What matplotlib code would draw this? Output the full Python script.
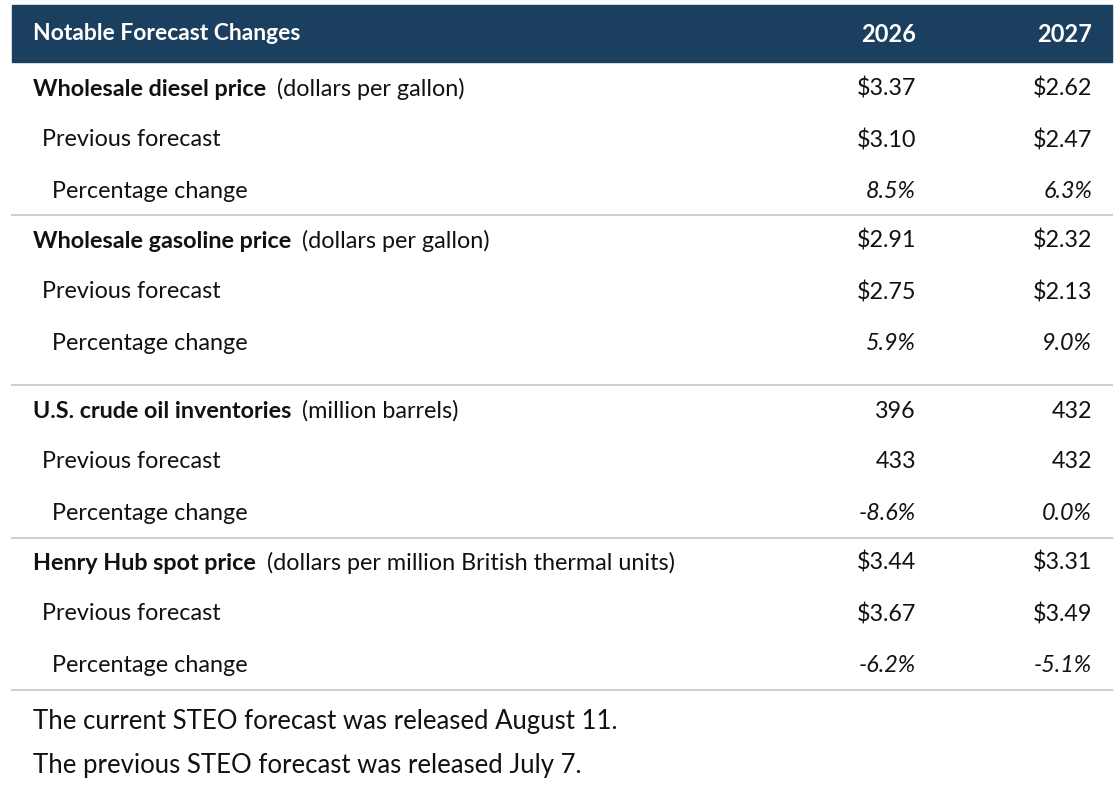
import matplotlib
matplotlib.use("Agg")
import matplotlib.pyplot as plt
from matplotlib.patches import Rectangle

title = "Notable Forecast Changes"
years = ["2026", "2027"]
groups = [
    ("Wholesale diesel price", "(dollars per gallon)"),
    ("Wholesale gasoline price", "(dollars per gallon)"),
    ("U.S. crude oil inventories", "(million barrels)"),
    ("Henry Hub spot price", "(dollars per million British thermal units)"),
]
current = [["$3.37", "$2.62"], ["$2.91", "$2.32"], ["396", "432"], ["$3.44", "$3.31"]]
previous = [["$3.10", "$2.47"], ["$2.75", "$2.13"], ["433", "432"], ["$3.67", "$3.49"]]
pct = [["8.5%", "6.3%"], ["5.9%", "9.0%"], ["-8.6%", "0.0%"], ["-6.2%", "-5.1%"]]
notes = ["The current STEO forecast was released August 11.",
         "The previous STEO forecast was released July 7."]

plt.rcParams['font.family'] = ['Lato', 'DejaVu Sans']
fig = plt.figure(figsize=(11.18, 8), dpi=100)
ax = fig.add_axes([0, 0, 1, 1])
ax.set_xlim(0, 1118); ax.set_ylim(800, 0); ax.axis("off")

ax.add_patch(Rectangle((12, 5), 1100, 57, color="#1b3f5e"))
ax.text(33, 34, title, color="white", fontsize=16.5, fontweight="bold", va="center")
colx = [916, 1092]
for x, y in zip(colx, years):
    ax.text(x, 34, y, color="white", fontsize=17, fontweight="bold", va="center", ha="right")

tops = [89, 241, 411, 563]
seps = [215, 385, 538, 690]
fs = 16.8
for i, (name, unit) in enumerate(groups):
    y0 = tops[i]
    t = ax.text(33, y0, name, fontsize=fs, fontweight="bold", va="center", color="#111")
    fig.canvas.draw()
    bb = t.get_window_extent()
    ax.text(bb.x1 + 11, y0, unit, fontsize=fs, va="center", color="#111")
    ax.text(42, y0 + 51, "Previous forecast", fontsize=fs, va="center", color="#111")
    ax.text(52, y0 + 102, "Percentage change", fontsize=fs, va="center", color="#111")
    for j, x in enumerate(colx):
        ax.text(x, y0, current[i][j], fontsize=fs, va="center", ha="right", color="#111")
        ax.text(x, y0 + 51, previous[i][j], fontsize=fs, va="center", ha="right", color="#111")
        ax.text(x, y0 + 102, pct[i][j], fontsize=fs, va="center", ha="right",
                style="italic", color="#111")
    ax.plot([12, 1112], [seps[i], seps[i]], color="#d0d0d0", lw=1.5)

ax.text(33, 722, notes[0], fontsize=18.5, va="center", color="#111")
ax.text(33, 765, notes[1], fontsize=18.5, va="center", color="#111")
fig.savefig("out.png", dpi=100)
